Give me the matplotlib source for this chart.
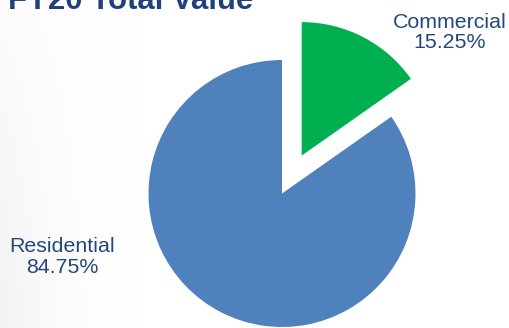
import numpy as np
import matplotlib
matplotlib.use("Agg")
import matplotlib.pyplot as plt

# ---- data ----
categories = ["Commercial", "Residential"]
values = [15.25, 84.75]
colors = ["#00B050", "#4F81BD"]
title = "FY20 Total Value"

plt.rcParams['font.family'] = ['Liberation Sans', 'DejaVu Sans']

W, H = 509, 328
fig = plt.figure(figsize=(W / 100, H / 100), dpi=100)
fig.patch.set_facecolor("white")

# subtle background gradient at left edge
bg = fig.add_axes([0, 0, 1, 1], zorder=0)
xx, yy = np.meshgrid(np.linspace(0, W, 300), np.linspace(0, H, 200))
fx = np.clip(1 - xx / 140.0, 0, 1) ** 2
fy = np.clip(yy / H, 0, 1)
shade = 1.0 - 0.05 * fx * (0.25 + 0.75 * fy)
bg.imshow(np.dstack([shade, shade, shade]), extent=[0, W, H, 0],
          aspect='auto', interpolation='bilinear')
bg.axis('off')

ax = fig.add_axes([0, 0, 1, 1], zorder=1)
ax.patch.set_alpha(0)
ax.set_xlim(0, W)
ax.set_ylim(0, H)
ax.set_aspect('equal')
ax.axis('off')

ax.pie(values, colors=colors, startangle=90, counterclock=False,
       center=(282, H - 193.5), radius=133.5, explode=[42.7, 0],
       wedgeprops=dict(linewidth=0))
ax.set_xlim(0, W)
ax.set_ylim(0, H)

txt_color = "#24487C"
# anchor = baseline of last line
label_pos = {"Commercial": (450, H - 48.5), "Residential": (62, H - 273)}
for cat, val in zip(categories, values):
    x, y = label_pos[cat]
    ax.text(x, y, f"{cat}\n{val:.2f}%", ha='center', va='baseline',
            fontsize=15.4, color=txt_color, linespacing=1.12,
            multialignment='center')

fig.text(8 / W, (H - 9) / H, title, ha='left', va='baseline',
         fontsize=22.4, fontweight='bold', color="#1F4079")

fig.savefig("out.png", dpi=100)
